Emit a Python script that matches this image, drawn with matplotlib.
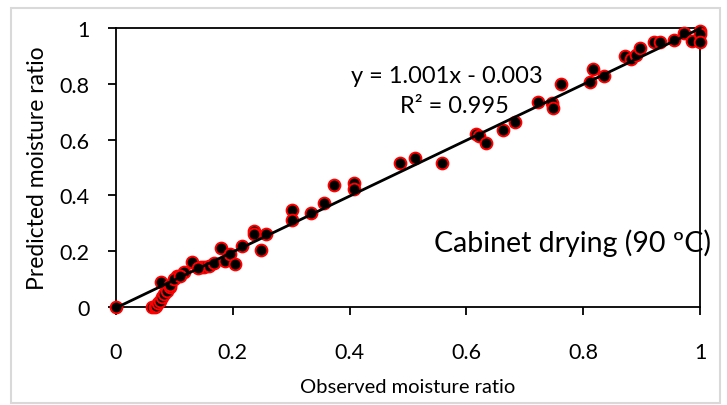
import matplotlib
matplotlib.use("Agg")
import matplotlib.pyplot as plt
from matplotlib.patches import Rectangle
import numpy as np

plt.rcParams['font.family'] = ['Lato', 'DejaVu Sans']

observed = [0.0, 0.061, 0.066, 0.069, 0.072, 0.075, 0.079, 0.083, 0.087, 0.092,
            0.077, 0.093, 0.105, 0.117, 0.130, 0.145, 0.151, 0.160, 0.167, 0.180,
            0.187, 0.196, 0.204, 0.216, 0.236, 0.237, 0.248, 0.257, 0.301, 0.301,
            0.334, 0.357, 0.373, 0.407, 0.407, 0.486, 0.512, 0.559, 0.617, 0.621,
            0.633, 0.662, 0.683, 0.722, 0.747, 0.748, 0.762, 0.812, 0.816, 0.836,
            0.871, 0.882, 0.890, 0.897, 0.921, 0.932, 0.955, 0.972, 0.986, 1.0,
            1.0, 1.0, 0.100, 0.110, 0.140]
predicted = [0.0, 0.0, 0.0, 0.005, 0.015, 0.023, 0.037, 0.047, 0.059, 0.070,
             0.091, 0.079, 0.112, 0.127, 0.162, 0.142, 0.142, 0.148, 0.158, 0.210,
             0.166, 0.190, 0.154, 0.220, 0.274, 0.262, 0.204, 0.262, 0.349, 0.313,
             0.337, 0.373, 0.437, 0.443, 0.423, 0.515, 0.533, 0.515, 0.620, 0.612,
             0.588, 0.634, 0.664, 0.736, 0.731, 0.712, 0.799, 0.808, 0.853, 0.827,
             0.898, 0.889, 0.904, 0.927, 0.949, 0.949, 0.958, 0.981, 0.952, 0.990,
             0.978, 0.949, 0.100, 0.110, 0.140]

slope = 1.001
intercept = -0.003
x_ticks = [0, 0.2, 0.4, 0.6, 0.8, 1]
tick_labels = ['0', '0.2', '0.4', '0.6', '0.8', '1']

fig = plt.figure(figsize=(7.27, 4.06), dpi=100)
ax = fig.add_axes([116/727, 1-308/406, (700-116)/727, (308-29)/406])

ax.plot(observed, predicted, 'o', markersize=8.5, markerfacecolor='black',
        markeredgecolor='red', markeredgewidth=1.4, zorder=3, clip_on=False)
xl = np.array([0.0, 1.0])
ax.plot(xl, slope*xl + intercept, color='black', lw=2.0, zorder=4, clip_on=False)

ax.set_xlim(0, 1)
ax.set_ylim(0, 1)
ax.set_xticks(x_ticks)
ax.set_xticklabels(tick_labels)
ax.set_yticks(x_ticks)
ax.set_yticklabels(tick_labels)
ax.tick_params(axis='both', direction='out', length=6, width=1.3, labelsize=15.5, colors='black')
ax.tick_params(axis='x', pad=19)
ax.tick_params(axis='y', pad=13)
for s in ax.spines.values():
    s.set_linewidth(1.3)
    s.set_color('black')

ax.set_xlabel('Observed moisture ratio', fontsize=14.5, labelpad=12)
ax.set_ylabel('Predicted moisture ratio', fontsize=16.5, labelpad=8)

ax.text(0.567, 0.828, 'y = 1.001x - 0.003', fontsize=17, ha='center', va='center')
ax.text(0.58, 0.724, 'R² = 0.995', fontsize=17, ha='center', va='center')
ax.text(0.781, 0.233, 'Cabinet drying (90 ºC)', fontsize=20.5, ha='center', va='center')

fig.patches.append(Rectangle((11/727, 2/406), 709/727, 395/406, transform=fig.transFigure,
                             fill=False, edgecolor='#d9d9d9', linewidth=1.5))

fig.savefig('out.png', dpi=100)
